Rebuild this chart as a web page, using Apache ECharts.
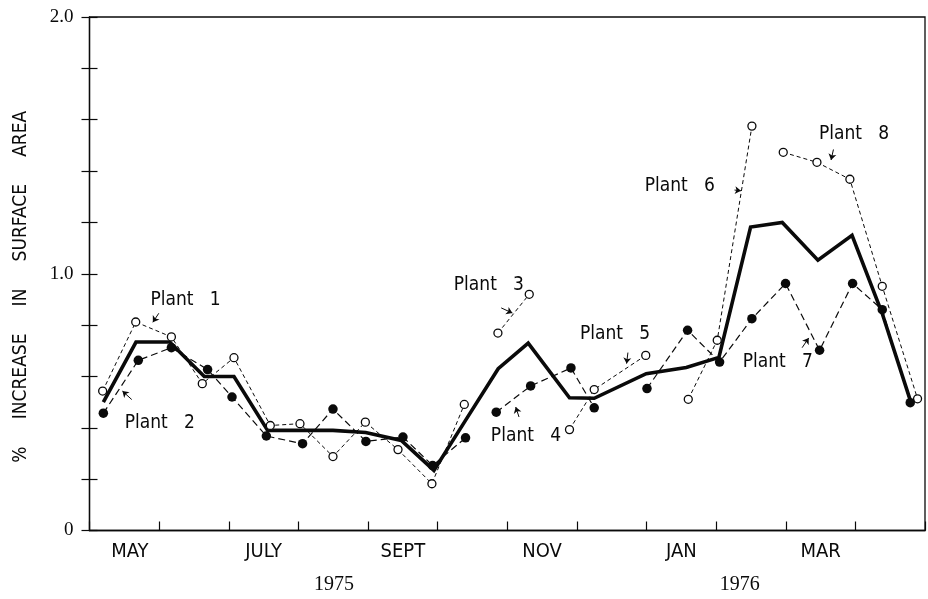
<!DOCTYPE html>
<html><head><meta charset="utf-8">
<script src="https://cdn.jsdelivr.net/npm/echarts@6/dist/echarts.min.js"></script>
<style>html,body{margin:0;padding:0;background:#fff}#c{width:928px;height:599px}</style>
</head><body><div id="c"></div>
<script>
// ---- data (x = months since 1 May 1975, y = % increase in surface area) ----
const meanX   = [0.199,0.668,1.151,1.649,2.075,2.559,3.042,3.497,3.966,4.478,4.947,5.387,5.870,6.301,6.894,7.249,7.996,8.571,9.040,9.495,9.950,10.462,10.952,11.386,11.798];
const meanY   = [0.500,0.734,0.734,0.600,0.600,0.390,0.390,0.390,0.382,0.351,0.234,0.423,0.630,0.730,0.517,0.515,0.611,0.635,0.674,1.182,1.200,1.053,1.150,0.845,0.499];
const plant1X = [0.189,0.664,1.176,1.620,2.075,2.597,3.023,3.497,3.962,4.431,4.918,5.383];
const plant1Y = [0.543,0.812,0.754,0.572,0.673,0.409,0.416,0.288,0.422,0.315,0.182,0.491];
const plant2X = [0.199,0.701,1.176,1.696,2.047,2.540,3.060,3.497,3.970,4.502,4.928,5.401];
const plant2Y = [0.457,0.663,0.712,0.627,0.520,0.368,0.338,0.473,0.347,0.364,0.253,0.361];
const plant3X = [5.866,6.316];
const plant3Y = [0.769,0.920];
const plant4X = [5.842,6.336,6.915,7.249];
const plant4Y = [0.461,0.563,0.633,0.478];
const plant5X = [6.894,7.249,7.989];
const plant5Y = [0.393,0.549,0.682];
const plant6X = [8.600,9.016,9.514];
const plant6Y = [0.511,0.741,1.575];
const plant7X = [8.007,8.590,9.050,9.514,9.997,10.486,10.960,11.386,11.788];
const plant7Y = [0.553,0.780,0.656,0.825,0.962,0.702,0.962,0.860,0.498];
const plant8X = [9.964,10.448,10.921,11.386,11.893];
const plant8Y = [1.473,1.434,1.368,0.951,0.513];

// annotation labels (data coordinates) and their pointer arrows
const labelNames = ['Plant   1','Plant   2','Plant   3','Plant   4','Plant   5','Plant   6','Plant   7','Plant   8'];
const labelX = [1.379,1.009,5.736,6.269,7.548,8.479,9.886,10.981];
const labelY = [0.897,0.417,0.955,0.366,0.764,1.341,0.655,1.544];
const arrowFrom = [[0.995,0.846],[0.607,0.510],[5.913,0.867],[6.169,0.442],[7.733,0.693],[9.264,1.326],[10.235,0.712],[10.685,1.484]];
const arrowTo   = [[0.910,0.811],[0.473,0.543],[6.074,0.847],[6.122,0.481],[7.714,0.650],[9.357,1.323],[10.330,0.750],[10.651,1.443]];

// axis labels
const monthNames = ['MAY','JULY','SEPT','NOV','JAN','MAR'];
const monthTicks = [0.5,2.5,4.5,6.5,8.5,10.5];
const yTickLabels = {0:'0', 1:'1.0', 2:'2.0'};
const yearNames = ['1975','1976'];
const yearPos = [3.511,9.339];

const SANS = "'DejaVu Sans Condensed','DejaVu Sans',sans-serif";
const SERIF = "'Liberation Serif','DejaVu Serif',serif";
const INK = '#0a0a0a';

const zip = (xs, ys) => xs.map((x, i) => [x, ys[i]]);

function openSeries(name, xs, ys) {
  return {
    name, type: 'line', data: zip(xs, ys), xAxisIndex: 0, yAxisIndex: 0,
    symbol: 'circle', symbolSize: 8, showSymbol: true,
    itemStyle: { color: '#fff', borderColor: INK, borderWidth: 1.3 },
    lineStyle: { color: INK, width: 1, type: [4, 3] },
    z: 3, animation: false, emphasis: { disabled: true }
  };
}
function filledSeries(name, xs, ys) {
  return {
    name, type: 'line', data: zip(xs, ys), xAxisIndex: 0, yAxisIndex: 0,
    symbol: 'circle', symbolSize: 9.5, showSymbol: true,
    itemStyle: { color: INK, borderColor: INK, borderWidth: 0 },
    lineStyle: { color: INK, width: 1.2, type: [7, 4] },
    z: 4, animation: false, emphasis: { disabled: true }
  };
}

const chart = echarts.init(document.getElementById('c'), null, { renderer: 'canvas' });

const option = {
  animation: false,
  backgroundColor: '#fff',
  grid: { left: 89.5, top: 17, right: -6, bottom: 68.5, show: true, borderColor: INK, borderWidth: 1.3, backgroundColor: 'transparent' },
  xAxis: [
    { type: 'value', min: 0, max: 12, interval: 1, position: 'bottom',
      axisLine: { show: true, onZero: false, lineStyle: { color: INK, width: 1.3 } },
      axisTick: { show: true, inside: true, length: 9, lineStyle: { color: INK, width: 1.2 } },
      axisLabel: { show: false }, splitLine: { show: false } },
    { type: 'value', min: 0, max: 12, interval: 0.5, position: 'bottom',
      axisLine: { show: false }, axisTick: { show: false }, splitLine: { show: false },
      axisLabel: {
        show: true, margin: 11, color: INK, fontFamily: SANS, fontSize: 20,
        formatter: function (v) {
          for (let i = 0; i < monthTicks.length; i++) {
            if (Math.abs(v - monthTicks[i]) < 1e-6) return i === 0 ? '{s|' + monthNames[i] + '}' : monthNames[i];
          }
          return '';
        },
        rich: { s: { fontFamily: SANS, fontSize: 20, color: INK, padding: [0, 0, 0, 11] } }
      } }
  ],
  yAxis: [
    { type: 'value', min: 0, max: 2, interval: 0.2, position: 'left',
      name: '%     INCREASE     IN     SURFACE     AREA',
      nameLocation: 'middle', nameRotate: 90, nameGap: 59,
      nameTextStyle: { fontFamily: SANS, fontSize: 19, color: INK, padding: [0, 26, 0, 0] },
      axisLine: { show: true, lineStyle: { color: INK, width: 1.3 } },
      axisTick: { show: true, inside: true, length: 8, lineStyle: { color: INK, width: 1.2 } },
      axisLabel: { show: true, margin: 16, color: INK, fontFamily: SERIF, fontSize: 19,
        formatter: function (v) { const k = Math.round(v * 10) / 10; return yTickLabels[k] !== undefined && Math.abs(v - k) < 1e-6 ? yTickLabels[k] : ''; } },
      splitLine: { show: false } },
    { type: 'value', min: 0, max: 2, interval: 0.2, position: 'right',
      axisLine: { show: false },
      axisTick: { show: true, inside: true, length: 8, lineStyle: { color: INK, width: 1.2 } },
      axisLabel: { show: false }, splitLine: { show: false } }
  ],
  series: [
    { name: 'Mean', type: 'line', data: zip(meanX, meanY), symbol: 'none',
      lineStyle: { color: INK, width: 3.6, join: 'miter' }, z: 2, animation: false, emphasis: { disabled: true } },
    openSeries('Plant 1', plant1X, plant1Y),
    filledSeries('Plant 2', plant2X, plant2Y),
    openSeries('Plant 3', plant3X, plant3Y),
    filledSeries('Plant 4', plant4X, plant4Y),
    openSeries('Plant 5', plant5X, plant5Y),
    openSeries('Plant 6', plant6X, plant6Y),
    filledSeries('Plant 7', plant7X, plant7Y),
    openSeries('Plant 8', plant8X, plant8Y),
    { name: 'labels', type: 'scatter', symbolSize: 1, itemStyle: { color: 'rgba(0,0,0,0)' },
      data: labelNames.map((n, i) => ({ name: n, value: [labelX[i], labelY[i]] })),
      label: { show: true, position: 'inside', formatter: '{b}', fontFamily: SANS, fontSize: 19,
        color: INK, textBorderWidth: 0, textBorderColor: 'transparent', opacity: 1 },
      z: 5, animation: false, emphasis: { disabled: true }, silent: true },
    { name: 'arrows', type: 'lines', coordinateSystem: 'cartesian2d',
      data: arrowFrom.map((f, i) => ({ coords: [f, arrowTo[i]] })),
      symbol: ['none', 'arrow'], symbolSize: [0, 6],
      lineStyle: { color: INK, width: 1, opacity: 1, curveness: 0 },
      z: 5, animation: false, silent: true }
  ]
};
chart.setOption(option);

// year captions under the month labels, placed on the x scale
const y0 = chart.convertToPixel({ yAxisIndex: 0 }, 0);
chart.setOption({
  graphic: yearNames.map((t, i) => ({
    type: 'text', silent: true,
    x: chart.convertToPixel({ xAxisIndex: 0 }, yearPos[i]), y: y0 + 54,
    style: { text: t, fontFamily: SERIF, fontSize: 20, fill: INK, align: 'center', verticalAlign: 'middle' }
  }))
});
</script></body></html>
